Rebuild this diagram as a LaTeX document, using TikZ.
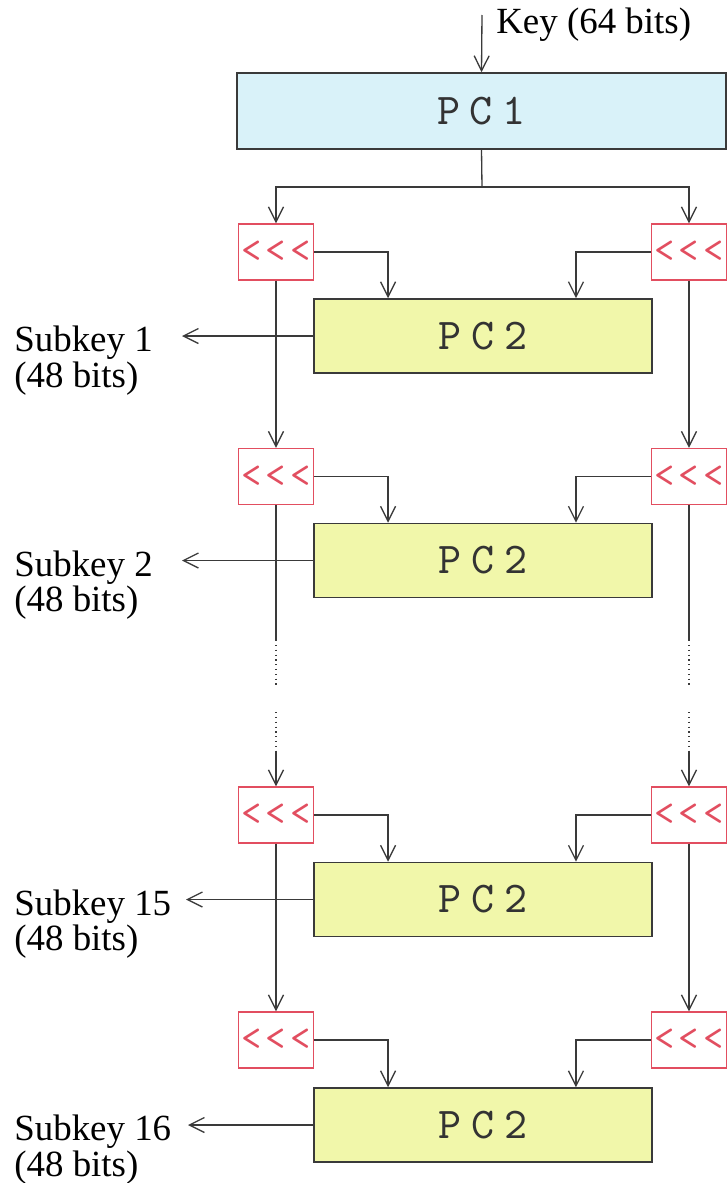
\documentclass[tikz,border=0pt]{standalone}
\usepackage{fontspec}
\setmainfont{Liberation Serif}
\newfontfamily\letrapc{lmmono10-regular}[Extension=.otf, LetterSpace=22]
\newfontfamily\letrarot{lmmono10-regular}[Extension=.otf, LetterSpace=10]
\usetikzlibrary{arrows.meta, positioning, calc}
\definecolor{azulpc}{RGB}{217,242,249}
\definecolor{verdepc}{RGB}{241,247,170}
\definecolor{rojorot}{RGB}{226,78,96}
\definecolor{gristrazo}{RGB}{58,58,58}
\tikzset{
    caja/.style={
        rectangle, draw=gristrazo, line width=0.9pt,
        inner sep=0pt, text=black!80,
        font=\letrapc\fontsize{25}{25}\selectfont
    },
    cajapcuno/.style={caja, fill=azulpc, minimum width=9.78cm, minimum height=1.52cm},
    cajapcdos/.style={caja, fill=verdepc, minimum width=6.76cm, minimum height=1.48cm},
    rotacion/.style={
        rectangle, draw=rojorot, line width=0.8pt, fill=white,
        minimum width=1.5cm, minimum height=1.12cm, inner sep=0pt,
        text=rojorot, font=\letrarot\fontsize{22}{22}\selectfont
    },
    trazo/.style={draw=gristrazo, line width=0.75pt},
    flecha/.style={trazo, -{Straight Barb[length=3mm, width=3mm]}},
    punteado/.style={trazo, dotted},
    etiqueta/.style={font=\fontsize{21}{20}\selectfont, inner sep=0pt, align=left}
}
\begin{document}
\begin{tikzpicture}[x=0.02cm, y=-0.02cm]

    \useasboundingbox (0,0) rectangle (727,1183);

    % entrada y PC1
    \coordinate (clave) at (482,15);
    \node[cajapcuno] (pcuno) at (481.5,111) {PC1};
    \node[etiqueta, anchor=base west] (etclave) at (496,33) {Key (64 bits)};
    \draw[flecha] (clave) -- (pcuno.north);
    \coordinate (reparto) at (482,187);

    % ronda 1
    \node[rotacion] (rotizq1) at (276,252) {<<<};
    \node[rotacion] (rotder1) at (689,252) {<<<};
    \node[cajapcdos] (pcdos1) at (483,336) {PC2};

    % ronda 2
    \node[rotacion] (rotizq2) at (276,476.5) {<<<};
    \node[rotacion] (rotder2) at (689,476.5) {<<<};
    \node[cajapcdos] (pcdos2) at (483,560.5) {PC2};

    % ronda 15
    \node[rotacion] (rotizq3) at (276,815) {<<<};
    \node[rotacion] (rotder3) at (689,815) {<<<};
    \node[cajapcdos] (pcdos3) at (483,899.5) {PC2};

    % ronda 16
    \node[rotacion] (rotizq4) at (276,1040) {<<<};
    \node[rotacion] (rotder4) at (689,1040) {<<<};
    \node[cajapcdos] (pcdos4) at (483,1125) {PC2};

    % reparto tras PC1
    \draw[trazo] (pcuno.south) -- (reparto);
    \draw[flecha] (reparto) -| (rotizq1.north);
    \draw[flecha] (reparto) -| (rotder1.north);

    % columnas
    \draw[flecha] (rotizq1) -- (rotizq2);
    \draw[flecha] (rotder1) -- (rotder2);
    \draw[flecha] (rotizq3) -- (rotizq4);
    \draw[flecha] (rotder3) -- (rotder4);

    % tramo omitido
    \coordinate (izqa) at (276,640);
    \coordinate (izqb) at (276,686);
    \coordinate (izqc) at (276,712);
    \coordinate (izqd) at (276,752);
    \coordinate (dera) at (689,640);
    \coordinate (derb) at (689,686);
    \coordinate (derc) at (689,712);
    \coordinate (derd) at (689,752);
    \draw[trazo] (rotizq2.south) -- (izqa);
    \draw[punteado] (izqa) -- (izqb);
    \draw[punteado] (izqc) -- (izqd);
    \draw[flecha] (izqd) -- (rotizq3.north);
    \draw[trazo] (rotder2.south) -- (dera);
    \draw[punteado] (dera) -- (derb);
    \draw[punteado] (derc) -- (derd);
    \draw[flecha] (derd) -- (rotder3.north);

    % entradas a PC2
    \draw[flecha] (rotizq1.east) -| ([xshift=-1.9cm]pcdos1.north);
    \draw[flecha] (rotder1.west) -| ([xshift=1.86cm]pcdos1.north);
    \draw[flecha] (rotizq2.east) -| ([xshift=-1.9cm]pcdos2.north);
    \draw[flecha] (rotder2.west) -| ([xshift=1.86cm]pcdos2.north);
    \draw[flecha] (rotizq3.east) -| ([xshift=-1.9cm]pcdos3.north);
    \draw[flecha] (rotder3.west) -| ([xshift=1.86cm]pcdos3.north);
    \draw[flecha] (rotizq4.east) -| ([xshift=-1.9cm]pcdos4.north);
    \draw[flecha] (rotder4.west) -| ([xshift=1.86cm]pcdos4.north);

    % subclaves
    \coordinate (sub1) at (182,336);
    \coordinate (sub2) at (182,560.5);
    \coordinate (sub3) at (186,899.5);
    \coordinate (sub4) at (188,1125);
    \draw[flecha] (pcdos1.west) -- (sub1);
    \draw[flecha] (pcdos2.west) -- (sub2);
    \draw[flecha] (pcdos3.west) -- (sub3);
    \draw[flecha] (pcdos4.west) -- (sub4);
    \node[etiqueta, anchor=north west] (etsub1) at (14,326) {Subkey 1\\(48 bits)};
    \node[etiqueta, anchor=north west] (etsub2) at (14,550.5) {Subkey 2\\(48 bits)};
    \node[etiqueta, anchor=north west] (etsub3) at (14,889.5) {Subkey 15\\(48 bits)};
    \node[etiqueta, anchor=north west] (etsub4) at (14,1115) {Subkey 16\\(48 bits)};

\end{tikzpicture}
\end{document}
